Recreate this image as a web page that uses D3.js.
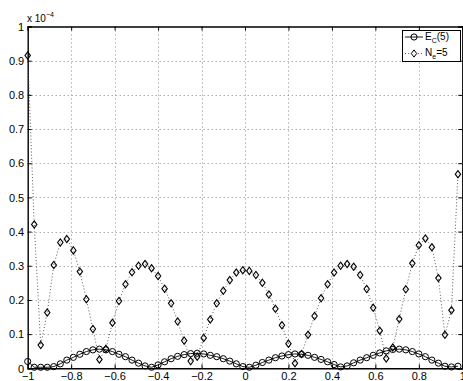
<!DOCTYPE html>
<html>
<head>
<meta charset="utf-8">
<script src="https://cdn.jsdelivr.net/npm/d3@7"></script>
<style>
  html, body { margin: 0; padding: 0; background: #fff; }
  svg { display: block; font-family: "Liberation Sans", Arial, Helvetica, sans-serif; }
</style>
</head>
<body>
<svg id="chart" width="463" height="381"></svg>
<script>
// Sample positions on [-1, 1)
const xValues = [
  -1.00, -0.97, -0.94, -0.91, -0.88, -0.85, -0.82, -0.79, -0.76, -0.73,
  -0.70, -0.67, -0.64, -0.61, -0.58, -0.55, -0.52, -0.49, -0.46, -0.43,
  -0.40, -0.37, -0.34, -0.31, -0.28, -0.25, -0.22, -0.19, -0.16, -0.13,
  -0.10, -0.07, -0.04, -0.01,  0.02,  0.05,  0.08,  0.11,  0.14,  0.17,
   0.20,  0.23,  0.26,  0.29,  0.32,  0.35,  0.38,  0.41,  0.44,  0.47,
   0.50,  0.53,  0.56,  0.59,  0.62,  0.65,  0.68,  0.71,  0.74,  0.77,
   0.80,  0.83,  0.86,  0.89,  0.92,  0.95,  0.98
];

// E_C(5) error, in units of 1e-4
const ecValues = [
  0.020, 0.003, 0.003, 0.003, 0.005, 0.013, 0.024, 0.032, 0.041, 0.049,
  0.054, 0.056, 0.054, 0.049, 0.041, 0.034, 0.024, 0.015, 0.007, 0.003,
  0.010, 0.019, 0.028, 0.035, 0.040, 0.043, 0.044, 0.042, 0.038, 0.034,
  0.028, 0.021, 0.013, 0.005, 0.003, 0.009, 0.017, 0.024, 0.031, 0.036,
  0.040, 0.042, 0.041, 0.038, 0.032, 0.026, 0.019, 0.011, 0.004, 0.007,
  0.016, 0.024, 0.031, 0.038, 0.045, 0.051, 0.055, 0.056, 0.054, 0.049,
  0.042, 0.034, 0.024, 0.015, 0.006, 0.004, 0.006
];

// N_e = 5 error, in units of 1e-4
const neValues = [
  0.915, 0.421, 0.068, 0.163, 0.302, 0.368, 0.378, 0.345, 0.283, 0.202,
  0.115, 0.026, 0.057, 0.133, 0.197, 0.246, 0.281, 0.300, 0.305, 0.293,
  0.270, 0.233, 0.190, 0.137, 0.081, 0.021, 0.034, 0.089, 0.143, 0.190,
  0.227, 0.258, 0.280, 0.287, 0.285, 0.273, 0.250, 0.216, 0.174, 0.126,
  0.072, 0.015, 0.042, 0.098, 0.153, 0.205, 0.246, 0.280, 0.300, 0.305,
  0.297, 0.273, 0.232, 0.177, 0.110, 0.029, 0.061, 0.144, 0.231, 0.307,
  0.360, 0.380, 0.354, 0.264, 0.098, 0.170, 0.568
];

const xTicks = [-1, -0.8, -0.6, -0.4, -0.2, 0, 0.2, 0.4, 0.6, 0.8, 1];
const yTicks = [0, 0.1, 0.2, 0.3, 0.4, 0.5, 0.6, 0.7, 0.8, 0.9, 1];

(function draw() {
  const svg = d3.select("#chart");
  const pLeft = 27.7, pRight = 462.3, pTop = 26.5, pBottom = 368.3;

  const x = d3.scaleLinear().domain([-1, 1]).range([pLeft, pRight]);
  const y = d3.scaleLinear().domain([0, 1]).range([pBottom, pTop]);

  const fmt = v => (v < 0 ? "\u2212" : "") + String(Math.abs(v));

  // dotted grid
  const grid = svg.append("g").attr("stroke", "#8a8a8a").attr("stroke-width", 1)
    .attr("stroke-dasharray", "1,3");
  xTicks.slice(1, -1).forEach(t => {
    const px = Math.round(x(t)) + 0.5;
    grid.append("line").attr("x1", px).attr("x2", px).attr("y1", pTop).attr("y2", pBottom);
  });
  yTicks.slice(1, -1).forEach(t => {
    const py = Math.round(y(t)) + 0.5;
    grid.append("line").attr("x1", pLeft).attr("x2", pRight).attr("y1", py).attr("y2", py);
  });

  // axes with inward ticks on all four sides
  const axisBottom = d3.axisBottom(x).tickValues(xTicks).tickSize(-4).tickFormat(fmt);
  const axisTop = d3.axisTop(x).tickValues(xTicks).tickSize(-4).tickFormat("");
  const axisLeft = d3.axisLeft(y).tickValues(yTicks).tickSize(-4).tickFormat(fmt);
  const axisRight = d3.axisRight(y).tickValues(yTicks).tickSize(-4).tickFormat("");

  function styleAxis(g) {
    g.select(".domain").attr("stroke", "#000").attr("stroke-width", 1.4);
    g.selectAll(".tick line").attr("stroke", "#000").attr("stroke-width", 1);
    g.selectAll("text").attr("font-size", 11).attr("fill", "#000")
      .attr("font-family", "'Liberation Sans', Arial, sans-serif");
  }
  svg.append("g").attr("transform", `translate(0,${pBottom})`).call(axisBottom).call(styleAxis)
    .selectAll("text").attr("y", 11.6).attr("dy", 0);
  svg.append("g").attr("transform", `translate(0,${pTop})`).call(axisTop).call(styleAxis);
  svg.append("g").attr("transform", `translate(${pLeft},0)`).call(axisLeft).call(styleAxis)
    .selectAll("text").attr("dy", "0.34em").attr("x", -3.5);
  svg.append("g").attr("transform", `translate(${pRight},0)`).call(axisRight).call(styleAxis);

  // exponent label
  const expo = svg.append("text").attr("x", 27).attr("y", 21.5).attr("font-size", 10).attr("fill", "#000");
  expo.append("tspan").text("x 10");
  expo.append("tspan").attr("dy", -4.5).attr("font-size", 7).text("\u22124");

  const pts = xValues.map((xv, i) => ({ x: xv, ec: ecValues[i], ne: neValues[i] }));

  // N_e = 5: dotted line with diamond markers
  svg.append("path").datum(pts)
    .attr("fill", "none").attr("stroke", "#444").attr("stroke-width", 0.9)
    .attr("stroke-dasharray", "1,2.2")
    .attr("d", d3.line().x(d => x(d.x)).y(d => y(d.ne)));

  const diamond = (cx, cy) => `M${cx},${cy - 3.6}L${cx + 2.7},${cy}L${cx},${cy + 3.6}L${cx - 2.7},${cy}Z`;
  svg.append("g").selectAll("path").data(pts).join("path")
    .attr("d", d => diamond(x(d.x), y(d.ne)))
    .attr("fill", "none").attr("stroke", "#000").attr("stroke-width", 1.1);

  // E_C(5): solid line with circle markers
  svg.append("path").datum(pts)
    .attr("fill", "none").attr("stroke", "#000").attr("stroke-width", 0.9)
    .attr("d", d3.line().x(d => x(d.x)).y(d => y(d.ec)));
  svg.append("g").selectAll("circle").data(pts).join("circle")
    .attr("cx", d => x(d.x)).attr("cy", d => y(d.ec)).attr("r", 3.1)
    .attr("fill", "none").attr("stroke", "#000").attr("stroke-width", 1);

  // legend
  const lg = svg.append("g");
  lg.append("rect").attr("x", 402.5).attr("y", 30.5).attr("width", 58).attr("height", 31)
    .attr("fill", "#fff").attr("stroke", "#000").attr("stroke-width", 1);
  lg.append("line").attr("x1", 405).attr("x2", 423).attr("y1", 37).attr("y2", 37)
    .attr("stroke", "#000").attr("stroke-width", 0.9);
  lg.append("circle").attr("cx", 414).attr("cy", 37).attr("r", 3.1)
    .attr("fill", "none").attr("stroke", "#000");
  lg.append("line").attr("x1", 405).attr("x2", 423).attr("y1", 53.5).attr("y2", 53.5)
    .attr("stroke", "#444").attr("stroke-width", 0.9).attr("stroke-dasharray", "1,2.2");
  lg.append("path").attr("d", diamond(414, 53.5)).attr("fill", "#fff").attr("stroke", "#000");

  const t1 = lg.append("text").attr("x", 425).attr("y", 39.5).attr("font-size", 10).attr("fill", "#000");
  t1.append("tspan").text("E");
  t1.append("tspan").attr("dy", 3).attr("font-size", 7).text("C");
  t1.append("tspan").attr("dy", -3).text("(5)");
  const t2 = lg.append("text").attr("x", 425).attr("y", 55.5).attr("font-size", 10).attr("fill", "#000");
  t2.append("tspan").text("N");
  t2.append("tspan").attr("dy", 3).attr("font-size", 7).text("e");
  t2.append("tspan").attr("dy", -3).text("=5");
})();
</script>
</body>
</html>
